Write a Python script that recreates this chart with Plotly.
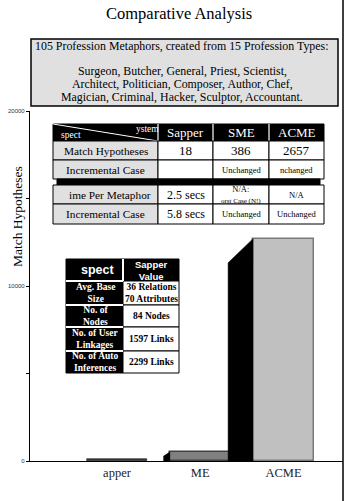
import plotly.graph_objects as go

# ---------------- data ----------------
categories = ["Sapper", "SME", "ACME"]
tick_labels = ["apper", "ME", "ACME"]
bar_values = [100, 510, 12700]          # heights
y_tick_vals = [0, 5000, 10000, 15000, 20000]
y_tick_text = ["0", "", "10000", "", "20000"]

title_text = "Comparative Analysis"
box_lines = [
    "105 Profession Metaphors, created from 15 Profession Types:",
    "Surgeon, Butcher, General, Priest, Scientist,",
    "Architect, Politician, Composer, Author, Chef,",
    "Magician, Criminal, Hacker, Sculptor, Accountant.",
]
y_title = "Match Hypotheses"

t1_header = ["Sapper", "SME", "ACME"]
t1_rows_top = [
    ["Match Hypotheses", "18", "386", "2657"],
    ["Incremental Case", "", "Unchanged", "nchanged"],
]
t1_rows_bottom = [
    ["ime Per Metaphor", "2.5 secs", "N/A:<br><span style='font-size:7px'>orst Case (N!)</span>", "N/A"],
    ["Incremental Case", "5.8 secs", "Unchanged", "Unchanged"],
]

t2_header = ["spect", "Sapper<br>Value"]
t2_rows = [
    ["Avg. Base<br>Size", "36 Relations<br>70 Attributes"],
    ["No. of<br>Nodes", "84 Nodes"],
    ["No. of User<br>Linkages", "1597 Links"],
    ["No. of Auto<br>Inferences", "2299 Links"],
]

# ---------------- styles ----------------
W, H = 346, 501
L, R, T, B = 30, 343, 111, 461
SERIF = "'Liberation Serif', 'Times New Roman', serif"
SANS = "'Liberation Sans', Arial, sans-serif"
bar_fill = ["#3a3a3a", "#808080", "#c0c0c0"]
bar_edge = ["#1a1a1a", "#404040", "#7a7a7a"]
bar_edge_w = [0.6, 1.5, 1.5]
side_dx = [0.0, 0.075, 0.30]      # 3D side depth (x units)
side_dy = [0, 230, 1370]          # 3D side slant (y units)
bar_w = 0.73


def px(x):
    return (x - L) / (R - L)


def py(y):
    return (B - y) / (B - T)


shapes = []
annotations = []


def rect(x0, y0, x1, y1, fill, line="black", lw=1.0):
    shapes.append(dict(type="rect", xref="paper", yref="paper",
                       x0=px(x0), x1=px(x1), y0=py(y1), y1=py(y0),
                       fillcolor=fill, line=dict(color=line, width=lw), layer="above"))


def seg(x0, y0, x1, y1, color="black", lw=1.0):
    shapes.append(dict(type="line", xref="paper", yref="paper",
                       x0=px(x0), x1=px(x1), y0=py(y0), y1=py(y1),
                       line=dict(color=color, width=lw), layer="above"))


def text(x, y, s, size, color="black", family=SERIF, xanchor="center", angle=0):
    annotations.append(dict(xref="paper", yref="paper", x=px(x), y=py(y), text=s,
                            showarrow=False, xanchor=xanchor, yanchor="middle",
                            textangle=angle,
                            font=dict(family=family, size=size, color=color)))


fig = go.Figure()

# 3D sides
for i, v in enumerate(bar_values):
    if side_dx[i] <= 0:
        continue
    xl = i - bar_w / 2
    xs = [xl, xl, xl - side_dx[i], xl - side_dx[i], xl]
    ys = [0, v, v - side_dy[i], 0, 0]
    fig.add_trace(go.Scatter(x=xs, y=ys, mode="lines", fill="toself",
                             fillcolor="black", line=dict(color="black", width=0.5),
                             hoverinfo="skip", showlegend=False))

fig.add_trace(go.Bar(x=list(range(len(categories))), y=bar_values, width=bar_w,
                     marker=dict(color=bar_fill, line=dict(color=bar_edge, width=bar_edge_w)),
                     showlegend=False, hovertext=categories))

# title
text(179, 13.5, title_text, 16.5)

# grey description box
rect(31, 39, 338, 106, "#e0e0e0", "black", 1.5)
text(182, 46, box_lines[0], 11.9)
for k, ln in enumerate(box_lines[1:]):
    text(182, 71 + 13 * k, ln, 11.9)

# y-axis title
text(17, 217, y_title, 13.5, angle=-90)

# right border line
shapes.append(dict(type="line", xref="paper", yref="paper", x0=px(343), x1=px(343),
                   y0=py(501), y1=py(0), line=dict(color="black", width=1.5), layer="above"))

# ---------- table 1 ----------
cx = [53, 158, 213, 269, 324]
rect(cx[0], 124, cx[-1], 141, "black", "black", 1)
for x in cx[1:-1]:
    seg(x, 124, x, 141, "white", 1.2)
seg(cx[0], 124, cx[1], 141, "white", 1)
text(71, 134.5, "spect", 9.5, "white")
text(147, 129, "ystem", 9.5, "white")
for j, h in enumerate(t1_header):
    text((cx[j + 1] + cx[j + 2]) / 2, 132.5, h, 13, "white")

row_edges_top = [141, 160, 179]
for r, row in enumerate(t1_rows_top):
    y0, y1 = row_edges_top[r], row_edges_top[r + 1]
    for j in range(4):
        rect(cx[j], y0, cx[j + 1], y1, "#e0e0e0" if j == 0 else "white", "black", 1)
        s = row[j]
        if not s:
            continue
        size = 11.3 if j == 0 else (13 if r == 0 else 8.5)
        text((cx[j] + cx[j + 1]) / 2, (y0 + y1) / 2, s, size)

rect(57, 179, 320, 185, "black", "black", 1)

row_edges_bot = [185, 204, 224]
for r, row in enumerate(t1_rows_bottom):
    y0, y1 = row_edges_bot[r], row_edges_bot[r + 1]
    for j in range(4):
        rect(cx[j], y0, cx[j + 1], y1, "#e0e0e0" if j == 0 else "white", "black", 1)
        s = row[j]
        if j == 0:
            text((cx[j] + cx[j + 1]) / 2 + 4 * (r == 0), (y0 + y1) / 2, s, 11.3)
        elif j == 1:
            text((cx[j] + cx[j + 1]) / 2, (y0 + y1) / 2, s, 12)
        else:
            text((cx[j] + cx[j + 1]) / 2, (y0 + y1) / 2, s, 8.5)

# ---------- table 2 ----------
c2 = [66, 123, 179]
r2 = [259, 281, 305, 327, 351, 373]
rect(c2[0], r2[0], c2[2], r2[1], "black", "black", 1)
rect(c2[0], r2[1], c2[1], r2[-1], "black", "black", 1)
for k in range(1, 5):
    rect(c2[1], r2[k], c2[2], r2[k + 1], "white", "black", 1)
seg(c2[1], r2[0], c2[1], r2[1], "white", 2)
for y in r2[1:-1]:
    seg(c2[0], y, c2[1], y, "white", 2)
text(97, 270, "<b>%s</b>" % t2_header[0], 12.5, "white", SANS)
text(151, 270, "<b>%s</b>" % t2_header[1], 9.5, "white", SANS)
for k, (a, b) in enumerate(t2_rows):
    ym = (r2[k + 1] + r2[k + 2]) / 2
    text(95, ym, "<b>%s</b>" % a, 9.5, "white")
    text(151, ym, "<b>%s</b>" % b, 9.5, "black")

fig.update_layout(
    width=W, height=H,
    margin=dict(l=L, r=W - R, t=T, b=H - B, pad=0),
    paper_bgcolor="white", plot_bgcolor="white",
    bargap=0,
    xaxis=dict(range=[-1.045, 2.715], tickvals=list(range(len(categories))),
               ticktext=tick_labels, showgrid=False, zeroline=False,
               showline=True, linecolor="black", linewidth=1.2, ticks="",
               tickfont=dict(family=SERIF, size=12.5, color="#222")),
    yaxis=dict(range=[0, 20000], tickvals=y_tick_vals, ticktext=y_tick_text,
               showgrid=False, zeroline=False, showline=True, linecolor="black",
               linewidth=1.2, ticks="outside", ticklen=3, tickcolor="black",
               tickfont=dict(family=SANS, size=6, color="#333")),
    shapes=shapes, annotations=annotations,
)

fig.write_html("out.html")
